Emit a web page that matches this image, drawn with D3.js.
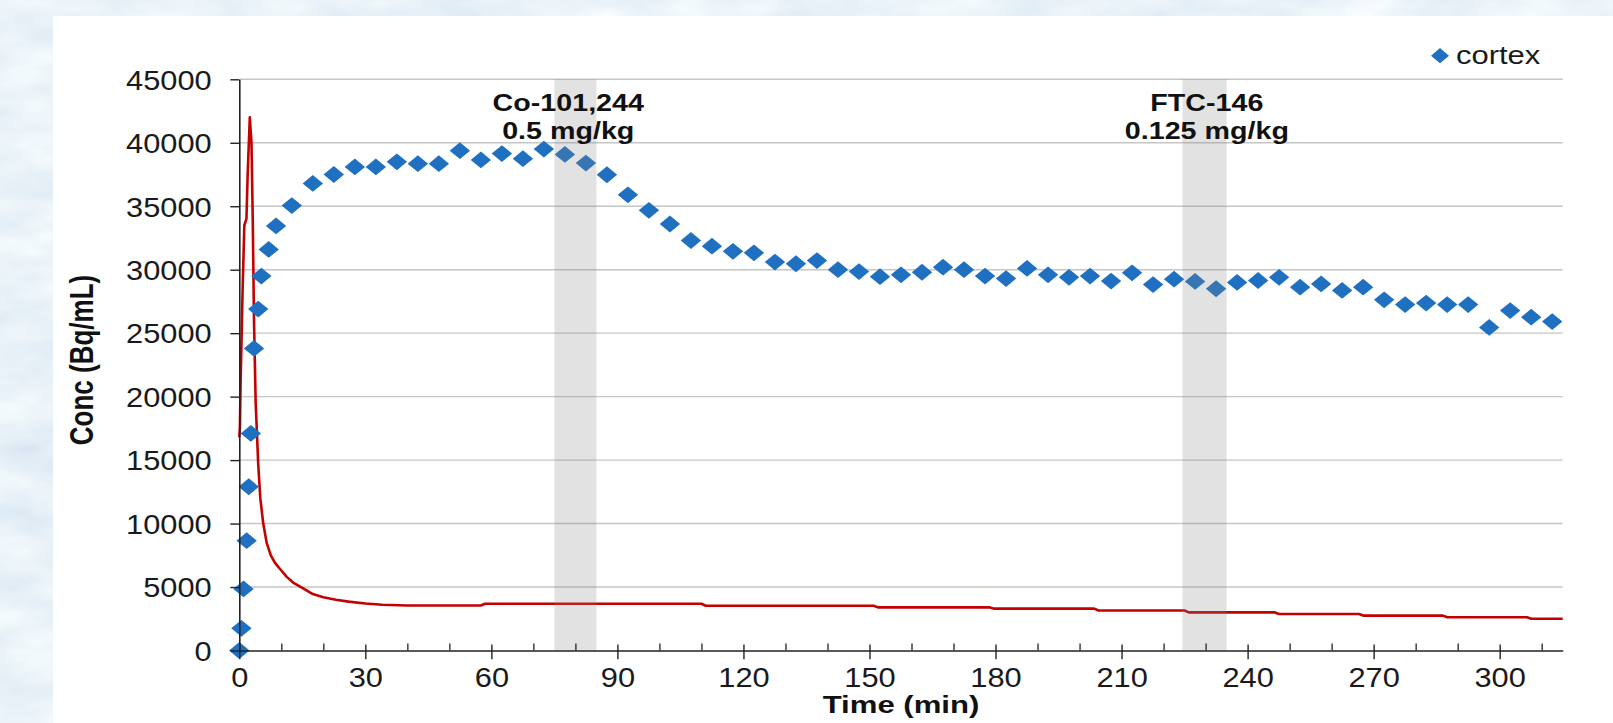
<!DOCTYPE html>
<html>
<head>
<meta charset="utf-8">
<script src="https://cdn.jsdelivr.net/npm/d3@7"></script>
<style>
  html, body { margin: 0; padding: 0; background: #fff; }
  svg { display: block; font-family: "Liberation Sans", Arial, Helvetica, sans-serif; }
</style>
</head>
<body>
<svg id="chart" width="1613" height="723"></svg>
<script>
// ---------------- DATA ----------------
const cortexTime = [0, 0.5, 1, 1.75, 2.25, 2.75, 3.5, 4.5, 5.25, 7, 8.75,
  12.5, 17.5, 22.5, 27.5, 32.5, 37.5, 42.5, 47.5, 52.5, 57.5, 62.5, 67.5, 72.5, 77.5, 82.5,
  87.5, 92.5, 97.5, 102.5, 107.5, 112.5, 117.5, 122.5, 127.5, 132.5, 137.5, 142.5, 147.5,
  152.5, 157.5, 162.5, 167.5, 172.5, 177.5, 182.5, 187.5, 192.5, 197.5, 202.5, 207.5,
  212.5, 217.5, 222.5, 227.5, 232.5, 237.5, 242.5, 247.5, 252.5, 257.5, 262.5, 267.5,
  272.5, 277.5, 282.5, 287.5, 292.5, 297.5, 302.5, 307.5, 312.5];
const cortexConc = [0, 1750, 4850, 8650, 12900, 17100, 23800, 26900, 29500, 31600, 33450,
  35050, 36800, 37500, 38100, 38100, 38500, 38350, 38350, 39380, 38650, 39150, 38750, 39500, 39080, 38400,
  37480, 35900, 34680, 33600, 32300, 31850, 31450, 31330, 30600, 30470, 30720, 30000, 29850,
  29450, 29600, 29800, 30200, 30000, 29500, 29300, 30100, 29600, 29400, 29500, 29100,
  29750, 28830, 29250, 29080, 28500, 29000, 29150, 29400, 28620, 28880, 28370, 28620,
  27630, 27250, 27370, 27250, 27250, 25450, 26780, 26260, 25910];

const plasmaTime = [0, 0.15, 0.3, 0.5, 0.8, 1.2, 1.7, 2.0, 2.5, 2.9, 3.2, 3.5, 3.9, 4.5, 5.0,
  5.7, 6.5, 7.5, 8.5, 10, 11.3, 13, 15.2, 17.5, 20, 23, 26, 30, 34, 40, 57.5, 58.5, 110, 111,
  151, 152, 178.5, 179.5, 203.5, 204.5, 225, 226, 246.5, 247.5, 266.5, 267.5, 286.5, 287.5,
  306.5, 307.5, 315];
const plasmaConc = [16800, 17600, 21000, 24000, 28600, 33500, 34000, 37600, 42000, 40000, 34000,
  26000, 19500, 14700, 12000, 10000, 8500, 7500, 6900, 6300, 5800, 5300, 4900, 4450, 4200, 4000,
  3850, 3700, 3600, 3550, 3550, 3680, 3680, 3530, 3530, 3400, 3400, 3300, 3300, 3150, 3150, 3000,
  3000, 2870, 2870, 2750, 2750, 2620, 2620, 2500, 2500];

const bandStart = [75, 224.5];
const bandEnd = [85, 235];
const bandLine1 = ["Co-101,244", "FTC-146"];
const bandLine2 = ["0.5 mg/kg", "0.125 mg/kg"];
const bandLabelTime = [78.3, 230.3];

const yTicks = [0, 5000, 10000, 15000, 20000, 25000, 30000, 35000, 40000, 45000];
const xMajorTicks = [0, 30, 60, 90, 120, 150, 180, 210, 240, 270, 300];
const xMinorTicks = [10, 20, 40, 50, 70, 80, 100, 110, 130, 140, 160, 170, 190, 200,
  220, 230, 250, 260, 280, 290, 310];
const xDomain = [0, 315];
const yDomain = [0, 45000];
const seriesName = "cortex";
const xTitle = "Time (min)";
const yTitle = "Conc (Bq/mL)";

// ---------------- LAYOUT ----------------
const W = 1613, H = 723;
const L = 239.3, R = 1562.7, T = 79.3, B = 650.5;
const svg = d3.select("#chart");

// textured blue background
const defs = svg.append("defs");
const f = defs.append("filter").attr("id", "tex").attr("x", 0).attr("y", 0).attr("width", "100%").attr("height", "100%");
f.append("feTurbulence").attr("type", "fractalNoise").attr("baseFrequency", "0.012 0.03")
  .attr("numOctaves", 4).attr("seed", 7).attr("result", "n");
f.append("feColorMatrix").attr("in", "n").attr("type", "matrix")
  .attr("values", "0.32 0 0 0 0.66  0.24 0 0 0 0.77  0.12 0 0 0 0.88  0 0 0 0 1");
svg.append("rect").attr("width", W).attr("height", H).attr("fill", "#d3e3f3");
svg.append("rect").attr("width", W).attr("height", H).attr("filter", "url(#tex)");
svg.append("rect").attr("x", 53).attr("y", 16).attr("width", W - 53).attr("height", H - 16).attr("fill", "#ffffff");

const x = d3.scaleLinear().domain(xDomain).range([L, R]);
const y = d3.scaleLinear().domain(yDomain).range([B, T]);

// gridlines
svg.append("g").selectAll("line").data(yTicks.filter(d => d > 0)).join("line")
  .attr("x1", L).attr("x2", R).attr("y1", d => y(d)).attr("y2", d => y(d))
  .attr("stroke", "#c6c6c6").attr("stroke-width", 1.4);

// red line
const line = d3.line().x(d => x(d[0])).y(d => y(d[1]));
svg.append("path").datum(plasmaTime.map((t, i) => [t, plasmaConc[i]]))
  .attr("d", line).attr("fill", "none").attr("stroke", "#c40000")
  .attr("stroke-width", 2.6).attr("stroke-linejoin", "round");

// diamonds
const dw = 10.2, dh = 8.4;
const diamond = `M0,${-dh}L${dw},0L0,${dh}L${-dw},0Z`;
svg.append("g").selectAll("path").data(cortexTime.map((t, i) => [t, cortexConc[i]])).join("path")
  .attr("d", diamond)
  .attr("transform", d => `translate(${x(d[0])},${y(d[1])})`)
  .attr("fill", "#1f70c1");

// bands (semi-transparent overlay)
svg.append("g").selectAll("rect").data(bandStart).join("rect")
  .attr("x", (d, i) => x(d)).attr("width", (d, i) => x(bandEnd[i]) - x(d))
  .attr("y", T).attr("height", B - T)
  .attr("fill", "rgb(135,135,135)").attr("fill-opacity", 0.24);

// axes
const yAxis = d3.axisLeft(y).tickValues(yTicks).tickSize(9).tickSizeOuter(0).tickFormat(d3.format("d"));
const gy = svg.append("g").attr("transform", `translate(${L},0)`).call(yAxis);
gy.select(".domain").attr("stroke", "#222").attr("stroke-width", 1.6);
gy.selectAll(".tick line").attr("stroke", "#222").attr("stroke-width", 1.4);
gy.selectAll(".tick text").attr("font-size", 28).attr("fill", "#1a1a1a")
  .attr("x", -25.1).attr("dy", "0.35em").attr("transform", "scale(1.1,1)");

const xAxis = d3.axisBottom(x).tickValues(xMajorTicks).tickSize(8.7).tickSizeOuter(0).tickFormat(d3.format("d"));
const gx = svg.append("g").attr("transform", `translate(0,${B})`).call(xAxis);
gx.select(".domain").attr("stroke", "#222").attr("stroke-width", 1.6);
gx.selectAll(".tick line").attr("y1", -6).attr("stroke", "#222").attr("stroke-width", 1.4);
gx.selectAll(".tick text").attr("font-size", 28).attr("fill", "#1a1a1a")
  .attr("y", 16.5).attr("transform", "scale(1.1,1)");

const xMinor = d3.axisBottom(x).tickValues(xMinorTicks).tickSize(-7).tickSizeOuter(0).tickFormat("");
const gxm = svg.append("g").attr("transform", `translate(0,${B})`).call(xMinor);
gxm.select(".domain").remove();
gxm.selectAll(".tick line").attr("stroke", "#222").attr("stroke-width", 1.3);

// band labels
const lab = svg.append("g").attr("font-weight", "bold").attr("font-size", 23.5).attr("fill", "#111").attr("text-anchor", "middle");
bandLabelTime.forEach((t, i) => {
  lab.append("text").attr("transform", `translate(${x(t)},110.5) scale(1.22,1)`).text(bandLine1[i]);
  lab.append("text").attr("transform", `translate(${x(t)},138.5) scale(1.22,1)`).text(bandLine2[i]);
});

// axis titles
svg.append("text").attr("transform", `translate(${(L + R) / 2},713) scale(1.27,1)`)
  .attr("text-anchor", "middle").attr("font-weight", "bold").attr("font-size", 24.5).attr("fill", "#111")
  .text(xTitle);
svg.append("text").attr("transform", `translate(93,360) scale(1.3,1) rotate(-90)`)
  .attr("text-anchor", "middle").attr("font-weight", "bold").attr("font-size", 26).attr("fill", "#111")
  .text(yTitle);

// legend
svg.append("path").attr("d", `M0,-7.6L9,0L0,7.6L-9,0Z`).attr("transform", "translate(1440,55.7)").attr("fill", "#1f70c1");
svg.append("text").attr("transform", "translate(1456,64) scale(1.19,1)")
  .attr("font-size", 26).attr("fill", "#1a1a1a").text(seriesName);
</script>
</body>
</html>
